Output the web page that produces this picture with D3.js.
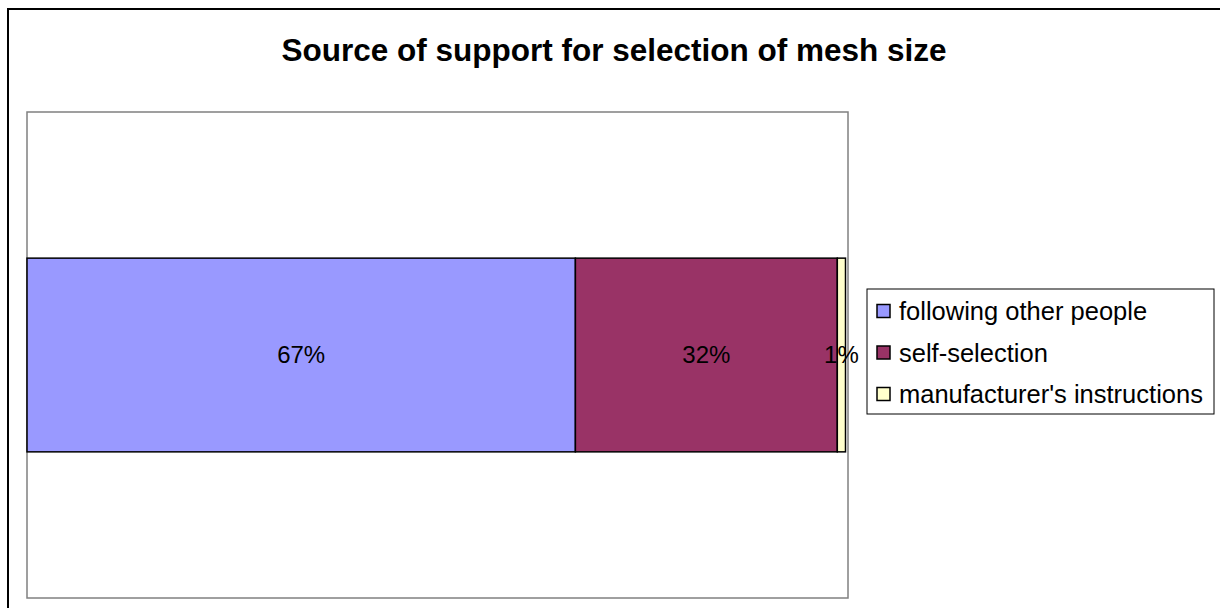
<!DOCTYPE html>
<html>
<head>
<meta charset="utf-8">
<script src="https://cdn.jsdelivr.net/npm/d3@7"></script>
<style>
  html, body { margin: 0; padding: 0; background: #fff; }
  svg { display: block; font-family: "Liberation Sans", Arial, sans-serif; }
</style>
</head>
<body>
<svg id="chart" width="1220" height="608"></svg>
<script>
// data
const categories = ['following other people', 'self-selection', "manufacturer's instructions"]
const values = [67, 32, 1]
const labels = ['67%', '32%', '1%']
const colors = ['#9999FF', '#993366', '#FFFFCC']
const rowName = ['1']

const svg = d3.select('#chart')

// outer frame (runs off the bottom/right edge)
svg.append('rect')
  .attr('x', 8).attr('y', 9)
  .attr('width', 1240).attr('height', 640)
  .style('fill', '#fff')
  .style('stroke', '#000')
  .style('stroke-width', 2)

// title
svg.append('text')
  .attr('x', 614)
  .attr('y', 61)
  .attr('text-anchor', 'middle')
  .style('font-size', '31.5px')
  .style('font-weight', 'bold')
  .text('Source of support for selection of mesh size')

// plot area
const plot = { left: 27, top: 112, right: 848, bottom: 598 }
svg.append('rect')
  .attr('x', plot.left).attr('y', plot.top)
  .attr('width', plot.right - plot.left)
  .attr('height', plot.bottom - plot.top)
  .style('fill', '#fff')
  .style('stroke', '#808080')
  .style('stroke-width', 1.5)

const x = d3.scaleLinear().domain([0, 100]).range([plot.left, 845.5])
const y = d3.scaleBand().domain(rowName).range([plot.top, plot.bottom]).padding(0.43)

// stacked segments
let acc = 0
const segs = values.map((v, i) => {
  const s = { start: acc, end: acc + v, color: colors[i], label: labels[i] }
  acc += v
  return s
})

const g = svg.append('g')
g.selectAll('.seg')
  .data(segs)
  .enter()
  .append('rect')
  .attr('class', 'seg')
  .attr('x', d => x(d.start))
  .attr('y', y('1'))
  .attr('width', d => x(d.end) - x(d.start))
  .attr('height', y.bandwidth())
  .style('fill', d => d.color)
  .style('stroke', '#000')
  .style('stroke-width', 1.5)

g.selectAll('.lbl')
  .data(segs)
  .enter()
  .append('text')
  .attr('class', 'lbl')
  .attr('x', d => (x(d.start) + x(d.end)) / 2)
  .attr('y', y('1') + y.bandwidth() / 2 + 8)
  .attr('text-anchor', 'middle')
  .style('font-size', '24px')
  .style('fill', '#000')
  .text(d => d.label)

// legend
const lg = svg.append('g').attr('transform', 'translate(867, 289)')
lg.append('rect')
  .attr('width', 347).attr('height', 125)
  .style('fill', '#fff')
  .style('stroke', '#000')
  .style('stroke-width', 1)

const items = lg.selectAll('.item')
  .data(categories)
  .enter()
  .append('g')
  .attr('class', 'item')
  .attr('transform', (d, i) => `translate(0, ${22 + i * 41.5})`)

items.append('rect')
  .attr('x', 10).attr('y', -6.5)
  .attr('width', 13).attr('height', 13)
  .style('fill', (d, i) => colors[i])
  .style('stroke', '#000')
  .style('stroke-width', 1.5)

items.append('text')
  .attr('x', 32)
  .attr('y', 9)
  .style('font-size', '25.5px')
  .text(d => d)
</script>
</body>
</html>
